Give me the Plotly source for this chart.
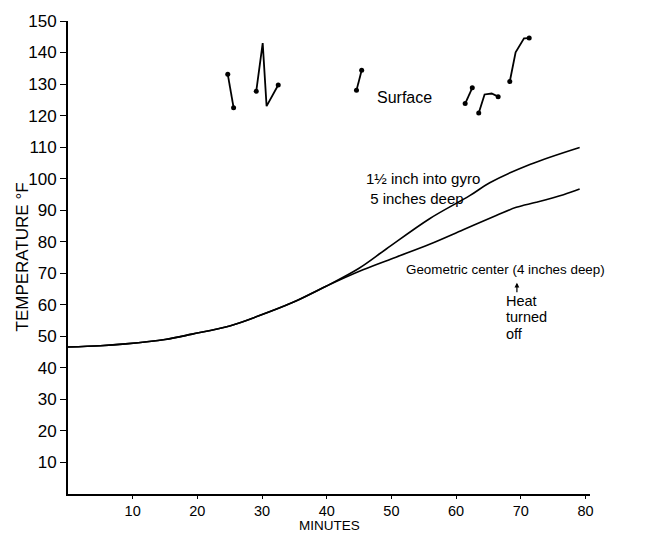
import plotly.graph_objects as go

# Shared early part of both curves (minutes, °F)
common_x = [0, 5, 8.9, 15, 19.2, 25, 29.5, 34.7, 39.9]
common_y = [46.6, 47.0, 47.6, 49.0, 50.7, 53.3, 56.5, 60.7, 65.9]

# 1 1/2 inch into gyro, 5 inches deep
gyro_x = [45.0, 49.2, 55.9, 62.1, 65.2, 71.4, 79.1]
gyro_y = [71.6, 77.7, 87.3, 94.6, 98.7, 104.5, 109.9]

# Geometric center (4 inches deep)
center_x = [45.6, 50.7, 55.9, 61.1, 66.2, 69.3, 72.4, 76.6, 79.1]
center_y = [71.1, 75.1, 79.2, 83.8, 88.3, 90.9, 92.5, 94.9, 96.7]

# Surface readings (short traced segments)
surface_x = [
    [24.7, 25.6],
    [29.1, 30.1, 30.7, 32.5],
    [44.6, 45.4],
    [61.4, 62.5],
    [63.5, 64.4, 65.5, 66.5],
    [68.3, 69.2, 70.5, 71.3],
]
surface_y = [
    [133.1, 122.5],
    [127.7, 143.0, 123.0, 129.7],
    [128.0, 134.4],
    [123.8, 128.8],
    [120.8, 126.7, 127.0, 126.0],
    [130.8, 140.1, 144.5, 144.6],
]

x_ticks = [10, 20, 30, 40, 50, 60, 70, 80]
y_ticks = [10, 20, 30, 40, 50, 60, 70, 80, 90, 100, 110, 120, 130, 140, 150]

FONT = "Liberation Sans"
fig = go.Figure()

fig.add_trace(go.Scatter(x=common_x + gyro_x, y=common_y + gyro_y, mode="lines",
                         line=dict(color="black", width=1.6, shape="spline"),
                         hoverinfo="skip"))
fig.add_trace(go.Scatter(x=common_x + center_x, y=common_y + center_y, mode="lines",
                         line=dict(color="black", width=1.6, shape="spline"),
                         hoverinfo="skip"))

for sx, sy in zip(surface_x, surface_y):
    fig.add_trace(go.Scatter(x=sx, y=sy, mode="lines",
                             line=dict(color="black", width=1.8),
                             hoverinfo="skip"))
    fig.add_trace(go.Scatter(x=[sx[0], sx[-1]], y=[sy[0], sy[-1]], mode="markers",
                             marker=dict(color="black", size=5),
                             hoverinfo="skip"))

annots = [
    dict(x=45.8, y=97.0, text="1½ inch into gyro<br> 5 inches deep", xanchor="left",
         align="left", size=15),
    dict(x=52.0, y=71.1, text="Geometric center (4 inches deep)", xanchor="left", size=13.4),
    dict(x=67.4, y=61.1, text="Heat", xanchor="left", size=14.5),
    dict(x=67.4, y=56.0, text="turned", xanchor="left", size=14.5),
    dict(x=67.4, y=50.7, text="off", xanchor="left", size=14.5),
    dict(x=52.0, y=125.6, text="Surface", xanchor="center", size=16),
]
for a in annots:
    size = a.pop("size")
    fig.add_annotation(xref="x", yref="y", showarrow=False, yanchor="middle",
                       font=dict(family=FONT, size=size, color="black"), **a)

fig.add_annotation(xref="x", yref="y", x=69.4, y=67.0, ax=0, ay=11, text="",
                   showarrow=True, arrowhead=2, arrowsize=0.8, arrowwidth=1.2,
                   arrowcolor="black")

fig.add_annotation(xref="paper", yref="paper", x=0.5, y=0, yshift=-41,
                   text="MINUTES", showarrow=False, xanchor="center", yanchor="bottom",
                   font=dict(family=FONT, size=13.5, color="black"))
fig.add_annotation(xref="paper", yref="paper", x=0, y=0.5, xshift=-46,
                   text="TEMPERATURE °F", showarrow=False, textangle=-90,
                   xanchor="center", yanchor="middle",
                   font=dict(family=FONT, size=17, color="black"))

fig.update_layout(
    width=648, height=535,
    margin=dict(l=68, r=58, t=15, b=41),
    paper_bgcolor="white", plot_bgcolor="white",
    showlegend=False,
    font=dict(family=FONT, size=15, color="black"),
)
fig.update_xaxes(range=[0, 80.7], tickvals=x_ticks, ticks="outside", ticklen=3,
                 tickwidth=1.2, tickcolor="black", showline=True, linecolor="black",
                 linewidth=2, showgrid=False, zeroline=False,
                 tickfont=dict(family=FONT, size=14.5, color="black"))
fig.update_yaxes(range=[0, 150], tickvals=y_ticks, ticks="outside", ticklen=6,
                 tickwidth=1.2, tickcolor="black", showline=True, linecolor="black",
                 linewidth=2, showgrid=False, zeroline=False,
                 tickfont=dict(family=FONT, size=17, color="black"))

fig.write_html("out.html")
